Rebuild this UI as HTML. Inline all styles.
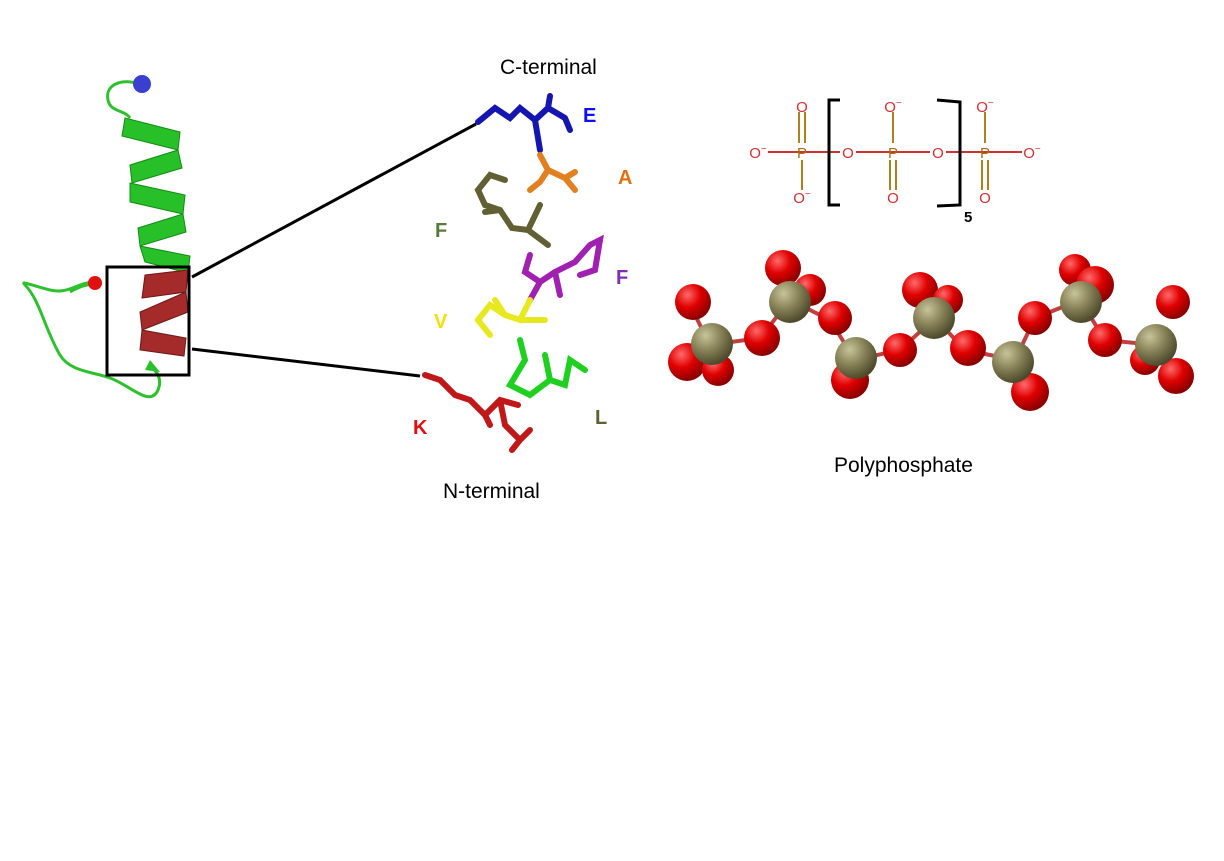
<!DOCTYPE html>
<html><head><style>
body{margin:0;background:#fff;width:1224px;height:856px;overflow:hidden;font-family:"Liberation Sans",sans-serif}
</style></head><body>
<svg width="1224" height="856" xmlns="http://www.w3.org/2000/svg" font-family="Liberation Sans, sans-serif">
<defs>
<radialGradient id="r" cx="35%" cy="30%" r="70%"><stop offset="0" stop-color="#ff6a6a"/><stop offset=".5" stop-color="#e00000"/><stop offset="1" stop-color="#8a0000"/></radialGradient>
<radialGradient id="p" cx="35%" cy="30%" r="70%"><stop offset="0" stop-color="#c8c49a"/><stop offset=".5" stop-color="#8a845a"/><stop offset="1" stop-color="#4e4a2c"/></radialGradient>
</defs>
<!-- protein -->
<path d="M140 84 C120 78 105 85 108 100 C110 112 125 110 130 118" stroke="#2ec02e" stroke-width="3" fill="none"/>
<circle cx="142" cy="84" r="9" fill="#3a3fd0"/>
<g fill="#28c028" stroke="#138a13" stroke-width="1">
<path d="M125 118 L180 132 L178 150 L122 136Z"/>
<path d="M178 150 L130 165 L132 183 L182 168Z"/>
<path d="M130 183 L185 195 L183 214 L130 202Z"/>
<path d="M183 214 L138 228 L140 246 L186 232Z"/>
<path d="M140 246 L190 256 L188 273 L145 262Z"/>
</g>
<g fill="#a52a2a" stroke="#6a1a1a" stroke-width="1">
<path d="M145 275 L188 270 L186 292 L142 298Z"/>
<path d="M186 292 L140 312 L142 330 L188 312Z"/>
<path d="M142 330 L186 338 L184 356 L140 350Z"/>
</g>
<path d="M150 360 L160 372 L145 370Z" fill="#28c028"/>
<path d="M95 283 C80 280 70 295 50 290 C30 285 20 280 25 285 C40 300 45 330 60 355 C70 372 95 372 110 378 C130 385 150 408 158 390 C162 380 158 372 150 366" stroke="#2ec02e" stroke-width="3" fill="none"/>
<path d="M70 292 C80 286 92 282 100 286" stroke="#2ec02e" stroke-width="3" fill="none"/>
<circle cx="95" cy="283" r="7" fill="#e01010"/>
<rect x="107" y="267" width="82" height="108" fill="none" stroke="#000" stroke-width="3"/>
<line x1="192" y1="277" x2="476" y2="124" stroke="#000" stroke-width="3"/>
<line x1="192" y1="349" x2="420" y2="376" stroke="#000" stroke-width="3"/>
<!-- peptide sticks -->
<g stroke-width="6" stroke-linecap="round" fill="none">
<path d="M478 122 L495 108 L510 118 L520 108 L535 120 L548 108 L565 118 M535 120 L540 150 M548 108 L550 96 M565 118 L570 130" stroke="#1515b0"/>
<path d="M540 155 L548 170 L540 182 L530 190 M548 170 L565 178 L575 190 M565 178 L575 172" stroke="#e08020"/>
<path d="M540 205 L528 230 L512 228 L500 210 L485 205 L478 190 L490 175 L505 180 M528 230 L548 245 M500 210 L485 212" stroke="#606034"/>
<path d="M530 255 L525 272 L540 282 L555 272 L575 262 L590 245 L600 240 L595 270 L580 275 M540 282 L530 300 M555 272 L560 295" stroke="#a020b0"/>
<path d="M530 300 L520 320 L505 315 L490 305 L478 320 L490 335 M505 315 L495 300 M520 320 L545 320" stroke="#e8e820"/>
<path d="M520 340 L525 360 L510 385 L530 395 L550 380 L565 385 L570 360 L585 370 M550 380 L545 355" stroke="#20d020"/>
<path d="M518 405 L500 400 L485 415 L470 400 L455 395 L440 380 L425 375 M485 415 L490 425 M500 400 L505 425 L520 440 L512 450 M520 440 L530 430" stroke="#c01818"/>
</g>
<g font-weight="bold" font-size="20">
<text x="583" y="122" fill="#1010f0">E</text>
<text x="618" y="184" fill="#e07010">A</text>
<text x="435" y="237" fill="#5a7a3a">F</text>
<text x="616" y="284" fill="#8030b0">F</text>
<text x="434" y="328" fill="#f0e010">V</text>
<text x="595" y="424" fill="#606030">L</text>
<text x="413" y="434" fill="#e01010">K</text>
</g>
<text x="500" y="74" font-size="21">C-terminal</text>
<text x="443" y="498" font-size="21">N-terminal</text>
<text x="834" y="472" font-size="21">Polyphosphate</text>
<!-- formula -->
<g stroke-width="2">
<line x1="768" y1="152" x2="840" y2="152" stroke="#d03030"/>
<line x1="856" y1="152" x2="930" y2="152" stroke="#d03030"/>
<line x1="946" y1="152" x2="1022" y2="152" stroke="#d03030"/>
<line x1="799" y1="112" x2="799" y2="143" stroke="#b08020"/><line x1="805" y1="112" x2="805" y2="143" stroke="#b08020"/>
<line x1="802" y1="160" x2="802" y2="190" stroke="#b08020"/>
<line x1="893" y1="112" x2="893" y2="143" stroke="#b08020"/>
<line x1="890" y1="160" x2="890" y2="190" stroke="#b08020"/><line x1="896" y1="160" x2="896" y2="190" stroke="#b08020"/>
<line x1="985" y1="112" x2="985" y2="143" stroke="#b08020"/>
<line x1="982" y1="160" x2="982" y2="190" stroke="#b08020"/><line x1="988" y1="160" x2="988" y2="190" stroke="#b08020"/>
</g>
<path d="M840 100 L829 100 L829 205 L840 205" stroke="#000" stroke-width="3" fill="none"/>
<path d="M937 100 L960 102 L960 205 L937 206" stroke="#000" stroke-width="3" fill="none"/>
<g font-size="15" text-anchor="middle">
<text x="758" y="158" fill="#d03030">O<tspan dy="-6" font-size="10">−</tspan></text>
<text x="802" y="158" fill="#a07010">P</text>
<text x="802" y="112" fill="#d03030">O</text>
<text x="802" y="203" fill="#d03030">O<tspan dy="-6" font-size="10">−</tspan></text>
<text x="848" y="158" fill="#d03030">O</text>
<text x="893" y="158" fill="#a07010">P</text>
<text x="893" y="112" fill="#d03030">O<tspan dy="-6" font-size="10">−</tspan></text>
<text x="893" y="203" fill="#d03030">O</text>
<text x="938" y="158" fill="#d03030">O</text>
<text x="985" y="158" fill="#a07010">P</text>
<text x="985" y="112" fill="#d03030">O<tspan dy="-6" font-size="10">−</tspan></text>
<text x="985" y="203" fill="#d03030">O</text>
<text x="1032" y="158" fill="#d03030">O<tspan dy="-6" font-size="10">−</tspan></text>
</g>
<text x="964" y="222" font-size="15" font-weight="bold">5</text>
<!-- ball and stick -->
<polyline points="690,305 710,345 760,338 790,300 830,320 855,360 900,350 935,318 965,350 1015,360 1035,318 1080,300 1105,340 1155,345" stroke="#c04040" stroke-width="4" fill="none"/>
<g fill="url(#r)">
<circle cx="693" cy="302" r="18"/><circle cx="687" cy="362" r="19"/><circle cx="718" cy="370" r="16"/>
<circle cx="762" cy="338" r="18"/><circle cx="783" cy="268" r="18"/><circle cx="810" cy="290" r="16"/>
<circle cx="835" cy="318" r="17"/><circle cx="850" cy="380" r="19"/><circle cx="900" cy="350" r="17"/>
<circle cx="920" cy="290" r="18"/><circle cx="948" cy="300" r="15"/><circle cx="968" cy="348" r="18"/>
<circle cx="1030" cy="392" r="19"/><circle cx="1035" cy="318" r="17"/><circle cx="1075" cy="270" r="16"/>
<circle cx="1095" cy="285" r="19"/><circle cx="1105" cy="340" r="17"/><circle cx="1145" cy="360" r="15"/>
<circle cx="1173" cy="302" r="17"/><circle cx="1176" cy="376" r="18"/>
</g>
<g fill="url(#p)">
<circle cx="712" cy="344" r="21"/><circle cx="790" cy="302" r="21"/><circle cx="856" cy="358" r="21"/>
<circle cx="934" cy="318" r="21"/><circle cx="1013" cy="362" r="21"/><circle cx="1081" cy="302" r="21"/><circle cx="1156" cy="345" r="21"/>
</g>
</svg>
</body></html>
